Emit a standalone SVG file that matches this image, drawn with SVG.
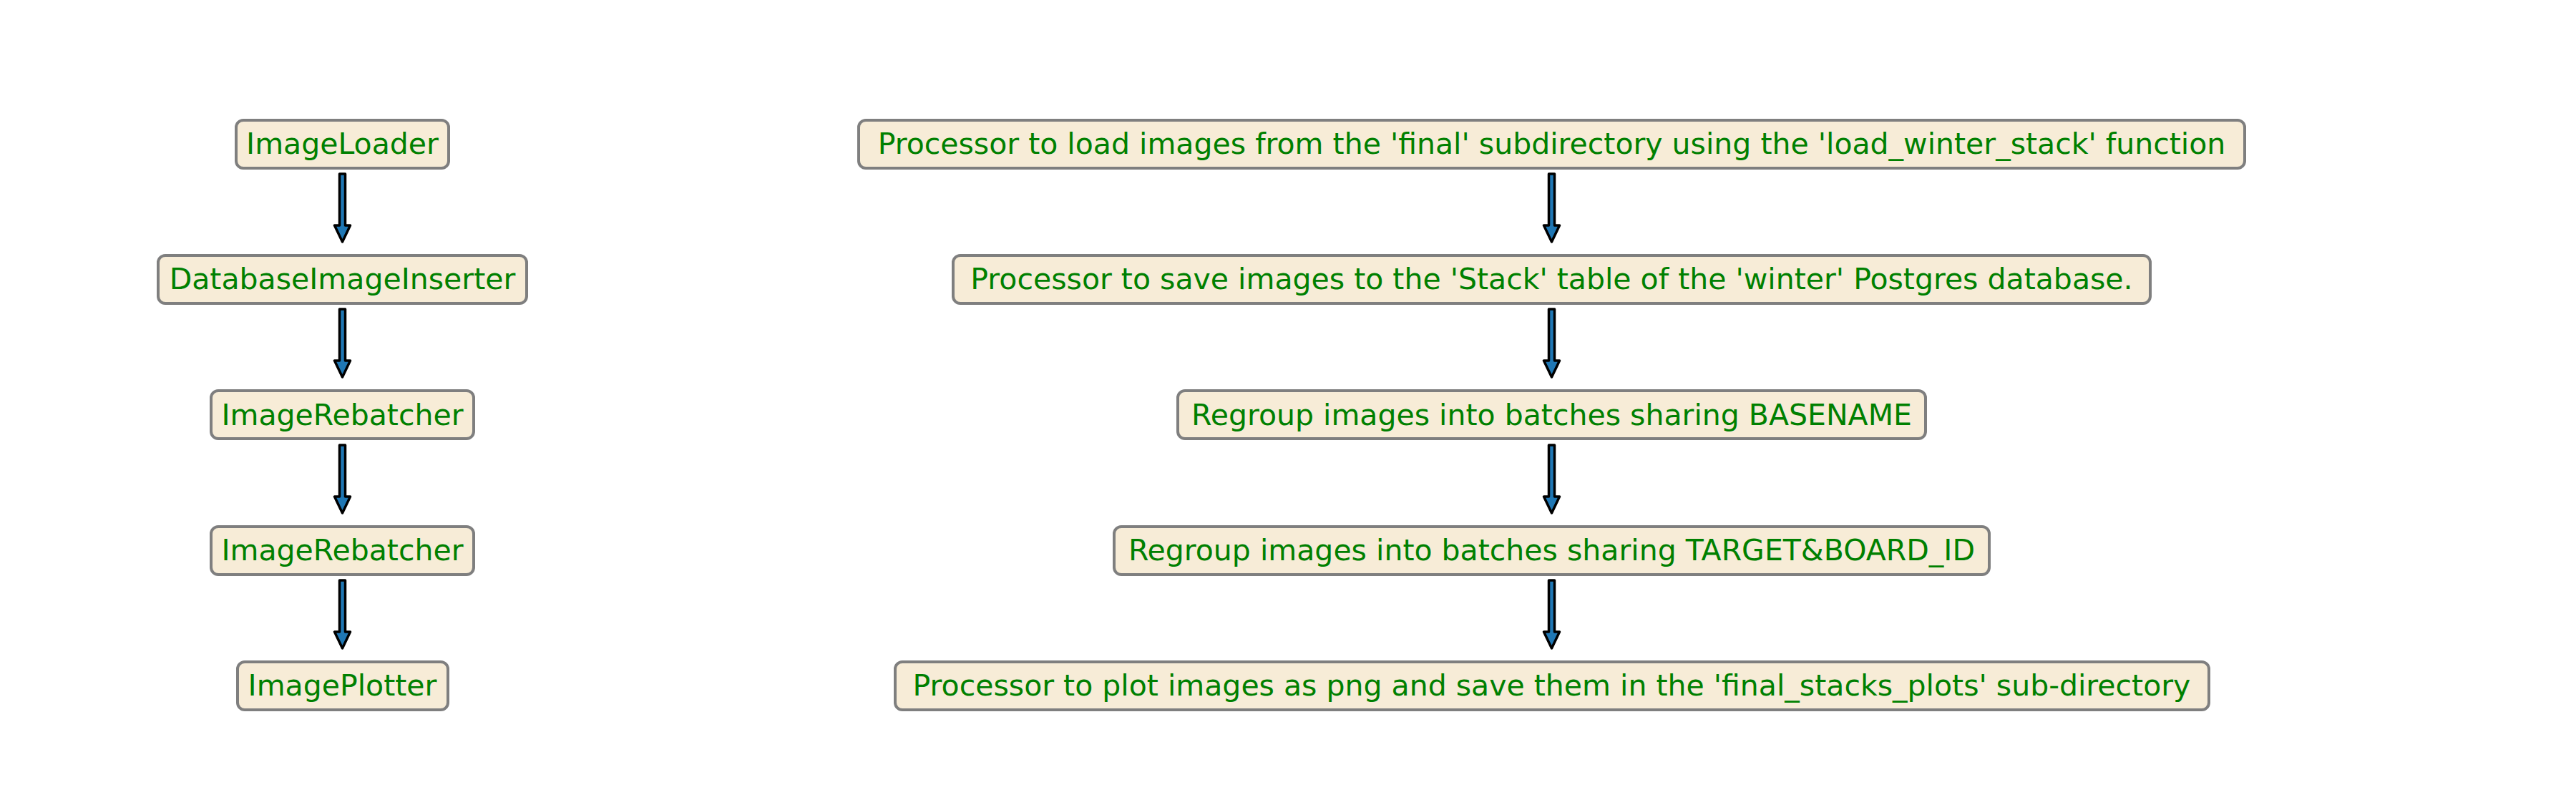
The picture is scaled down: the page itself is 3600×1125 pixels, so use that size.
<svg xmlns="http://www.w3.org/2000/svg" width="3600" height="1125" viewBox="0 0 3600 1125">
<style>
.b{fill:#f7ecd7;stroke:#7f7f7f;stroke-width:4}
.t{font-family:"DejaVu Sans",sans-serif;font-size:41px;fill:#008000;text-anchor:middle;dominant-baseline:central}
.a{fill:#1f77b4;stroke:#000;stroke-width:3.5;stroke-linejoin:round}
</style>
<defs>
<path id="arr" class="a" d="M-4,0 H4 V72 H11 L0,95 L-11,72 H-4 Z"/>
</defs>
<rect width="3600" height="1125" fill="#fff"/>
<g id="l1"><rect class="b" x="330" y="168" width="297" height="67" rx="10"/><text class="t" x="478.5" y="201">ImageLoader</text></g>
<g id="l2"><rect class="b" x="221" y="357" width="515" height="67" rx="10"/><text class="t" x="478.5" y="390">DatabaseImageInserter</text></g>
<g id="l3"><rect class="b" x="295" y="546" width="367" height="67" rx="10"/><text class="t" x="478.5" y="580">ImageRebatcher</text></g>
<g id="l4"><rect class="b" x="295" y="736" width="367" height="67" rx="10"/><text class="t" x="478.5" y="769">ImageRebatcher</text></g>
<g id="l5"><rect class="b" x="332" y="925" width="294" height="67" rx="10"/><text class="t" x="478.5" y="958">ImagePlotter</text></g>
<g id="r1"><rect class="b" x="1200" y="168" width="1937" height="67" rx="10"/><text class="t" x="2168.5" y="201">Processor to load images from the 'final' subdirectory using the 'load_winter_stack' function</text></g>
<g id="r2"><rect class="b" x="1332" y="357" width="1673" height="67" rx="10"/><text class="t" x="2168.5" y="390">Processor to save images to the 'Stack' table of the 'winter' Postgres database.</text></g>
<g id="r3"><rect class="b" x="1646" y="546" width="1045" height="67" rx="10"/><text class="t" x="2168.5" y="580">Regroup images into batches sharing BASENAME</text></g>
<g id="r4"><rect class="b" x="1557" y="736" width="1223" height="67" rx="10"/><text class="t" x="2168.5" y="769">Regroup images into batches sharing TARGET&amp;BOARD_ID</text></g>
<g id="r5"><rect class="b" x="1251" y="925" width="1836" height="67" rx="10"/><text class="t" x="2168.5" y="958">Processor to plot images as png and save them in the 'final_stacks_plots' sub-directory</text></g>
<g id="connectors">
<use href="#arr" x="478.5" y="243"/><use href="#arr" x="478.5" y="432"/><use href="#arr" x="478.5" y="622"/><use href="#arr" x="478.5" y="811"/>
<use href="#arr" x="2168.5" y="243"/><use href="#arr" x="2168.5" y="432"/><use href="#arr" x="2168.5" y="622"/><use href="#arr" x="2168.5" y="811"/>
</g>
</svg>
